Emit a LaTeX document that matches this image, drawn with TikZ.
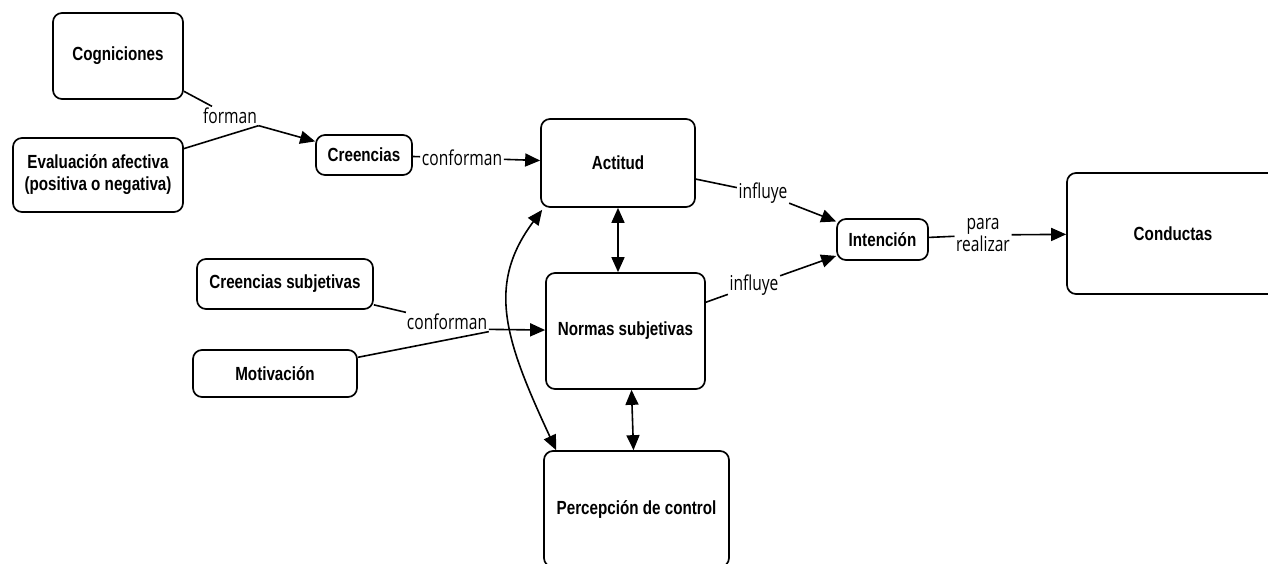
\documentclass[tikz,border=0pt]{standalone}
\usepackage{fontspec}
\newfontfamily\nodefont[FakeStretch=0.8]{Liberation Sans}
\newfontfamily\lblfont[FakeStretch=0.76]{Open Sans}
\usetikzlibrary{arrows.meta,calc}
\begin{document}
\begin{tikzpicture}[x=1pt,y=-1pt,
  cbox/.style={draw, rounded corners=9pt, line width=1.7pt, align=center, inner sep=0pt,
    font=\nodefont\bfseries\fontsize{19}{22}\selectfont},
  lbl/.style={inner sep=1.5pt, align=center, font=\lblfont\fontsize{20.5}{22}\selectfont},
  conn/.style={line width=1.6pt},
  arr/.style={conn, -{Triangle[length=15pt,width=13pt]}},
  darr/.style={conn, {Triangle[length=15pt,width=13pt]}-{Triangle[length=15pt,width=13pt]}}]
\useasboundingbox (0,0) rectangle (1268,564);
\clip (0,0) rectangle (1268,564);
\fill[white] (0,0) rectangle (1268,564);

% boxes
\node[cbox, minimum width=130pt, minimum height=86pt] (cog) at (118,56) {Cogniciones};
\node[cbox, minimum width=170pt, minimum height=74pt] (eva) at (98,175) {Evaluación afectiva\\(positiva o negativa)};
\node[cbox, minimum width=96pt, minimum height=40pt] (cre) at (364,155) {Creencias};
\node[cbox, minimum width=154pt, minimum height=88pt] (act) at (618,163) {Actitud};
\node[cbox, minimum width=176pt, minimum height=50pt] (cs) at (285,284) {Creencias subjetivas};
\node[cbox, minimum width=164pt, minimum height=47pt] (mot) at (275,373.5) {Motivación};
\node[cbox, minimum width=159pt, minimum height=116pt] (norm) at (625.5,331) {Normas subjetivas};
\node[cbox, minimum width=185pt, minimum height=116pt] (perc) at (636.5,509) {Percepción de control};
\node[cbox, minimum width=91pt, minimum height=41pt] (int) at (882.5,239.5) {Intención};
\node[cbox, minimum width=212pt, minimum height=121pt] (cond) at (1173,233.5) {Conductas};

% labels
\node[lbl] (forman) at (230,116) {forman};
\node[lbl] (conf1) at (462,158) {conforman};
\node[lbl] (inf1) at (763,193) {influye};
\node[lbl] (inf2) at (754,285) {influye};
\node[lbl] (para) at (983,235) {para\\realizar};
\node[lbl] (conf2) at (447,322) {conforman};

% connectors
\draw[conn] (cog) -- (forman);
\draw[conn] (eva) -- (forman.south east);
\draw[arr] (forman.south east) -- (cre);
\draw[conn] (cre) -- (conf1);
\draw[arr] (conf1) -- (act);
\draw[conn] (act) -- (inf1);
\draw[arr] (inf1) -- (int);
\draw[conn] (norm) -- (inf2);
\draw[arr] (inf2) -- (int);
\draw[conn] (int) -- (para);
\draw[arr] (para) -- (cond);
\draw[conn] (cs) -- (conf2);
\draw[conn] (mot) -- (conf2.south east);
\draw[arr] (conf2.-10) -- (norm);
\draw[darr] (act.south) -- (act.south |- norm.north);
\draw[darr] ([xshift=6pt]norm.south) -- ([xshift=-3pt]perc.north);
\draw[darr] ([xshift=2pt,yshift=-2pt]act.south west) .. controls (486,285) and (505,340) .. ([xshift=13pt]perc.north west);
\end{tikzpicture}
\end{document}
